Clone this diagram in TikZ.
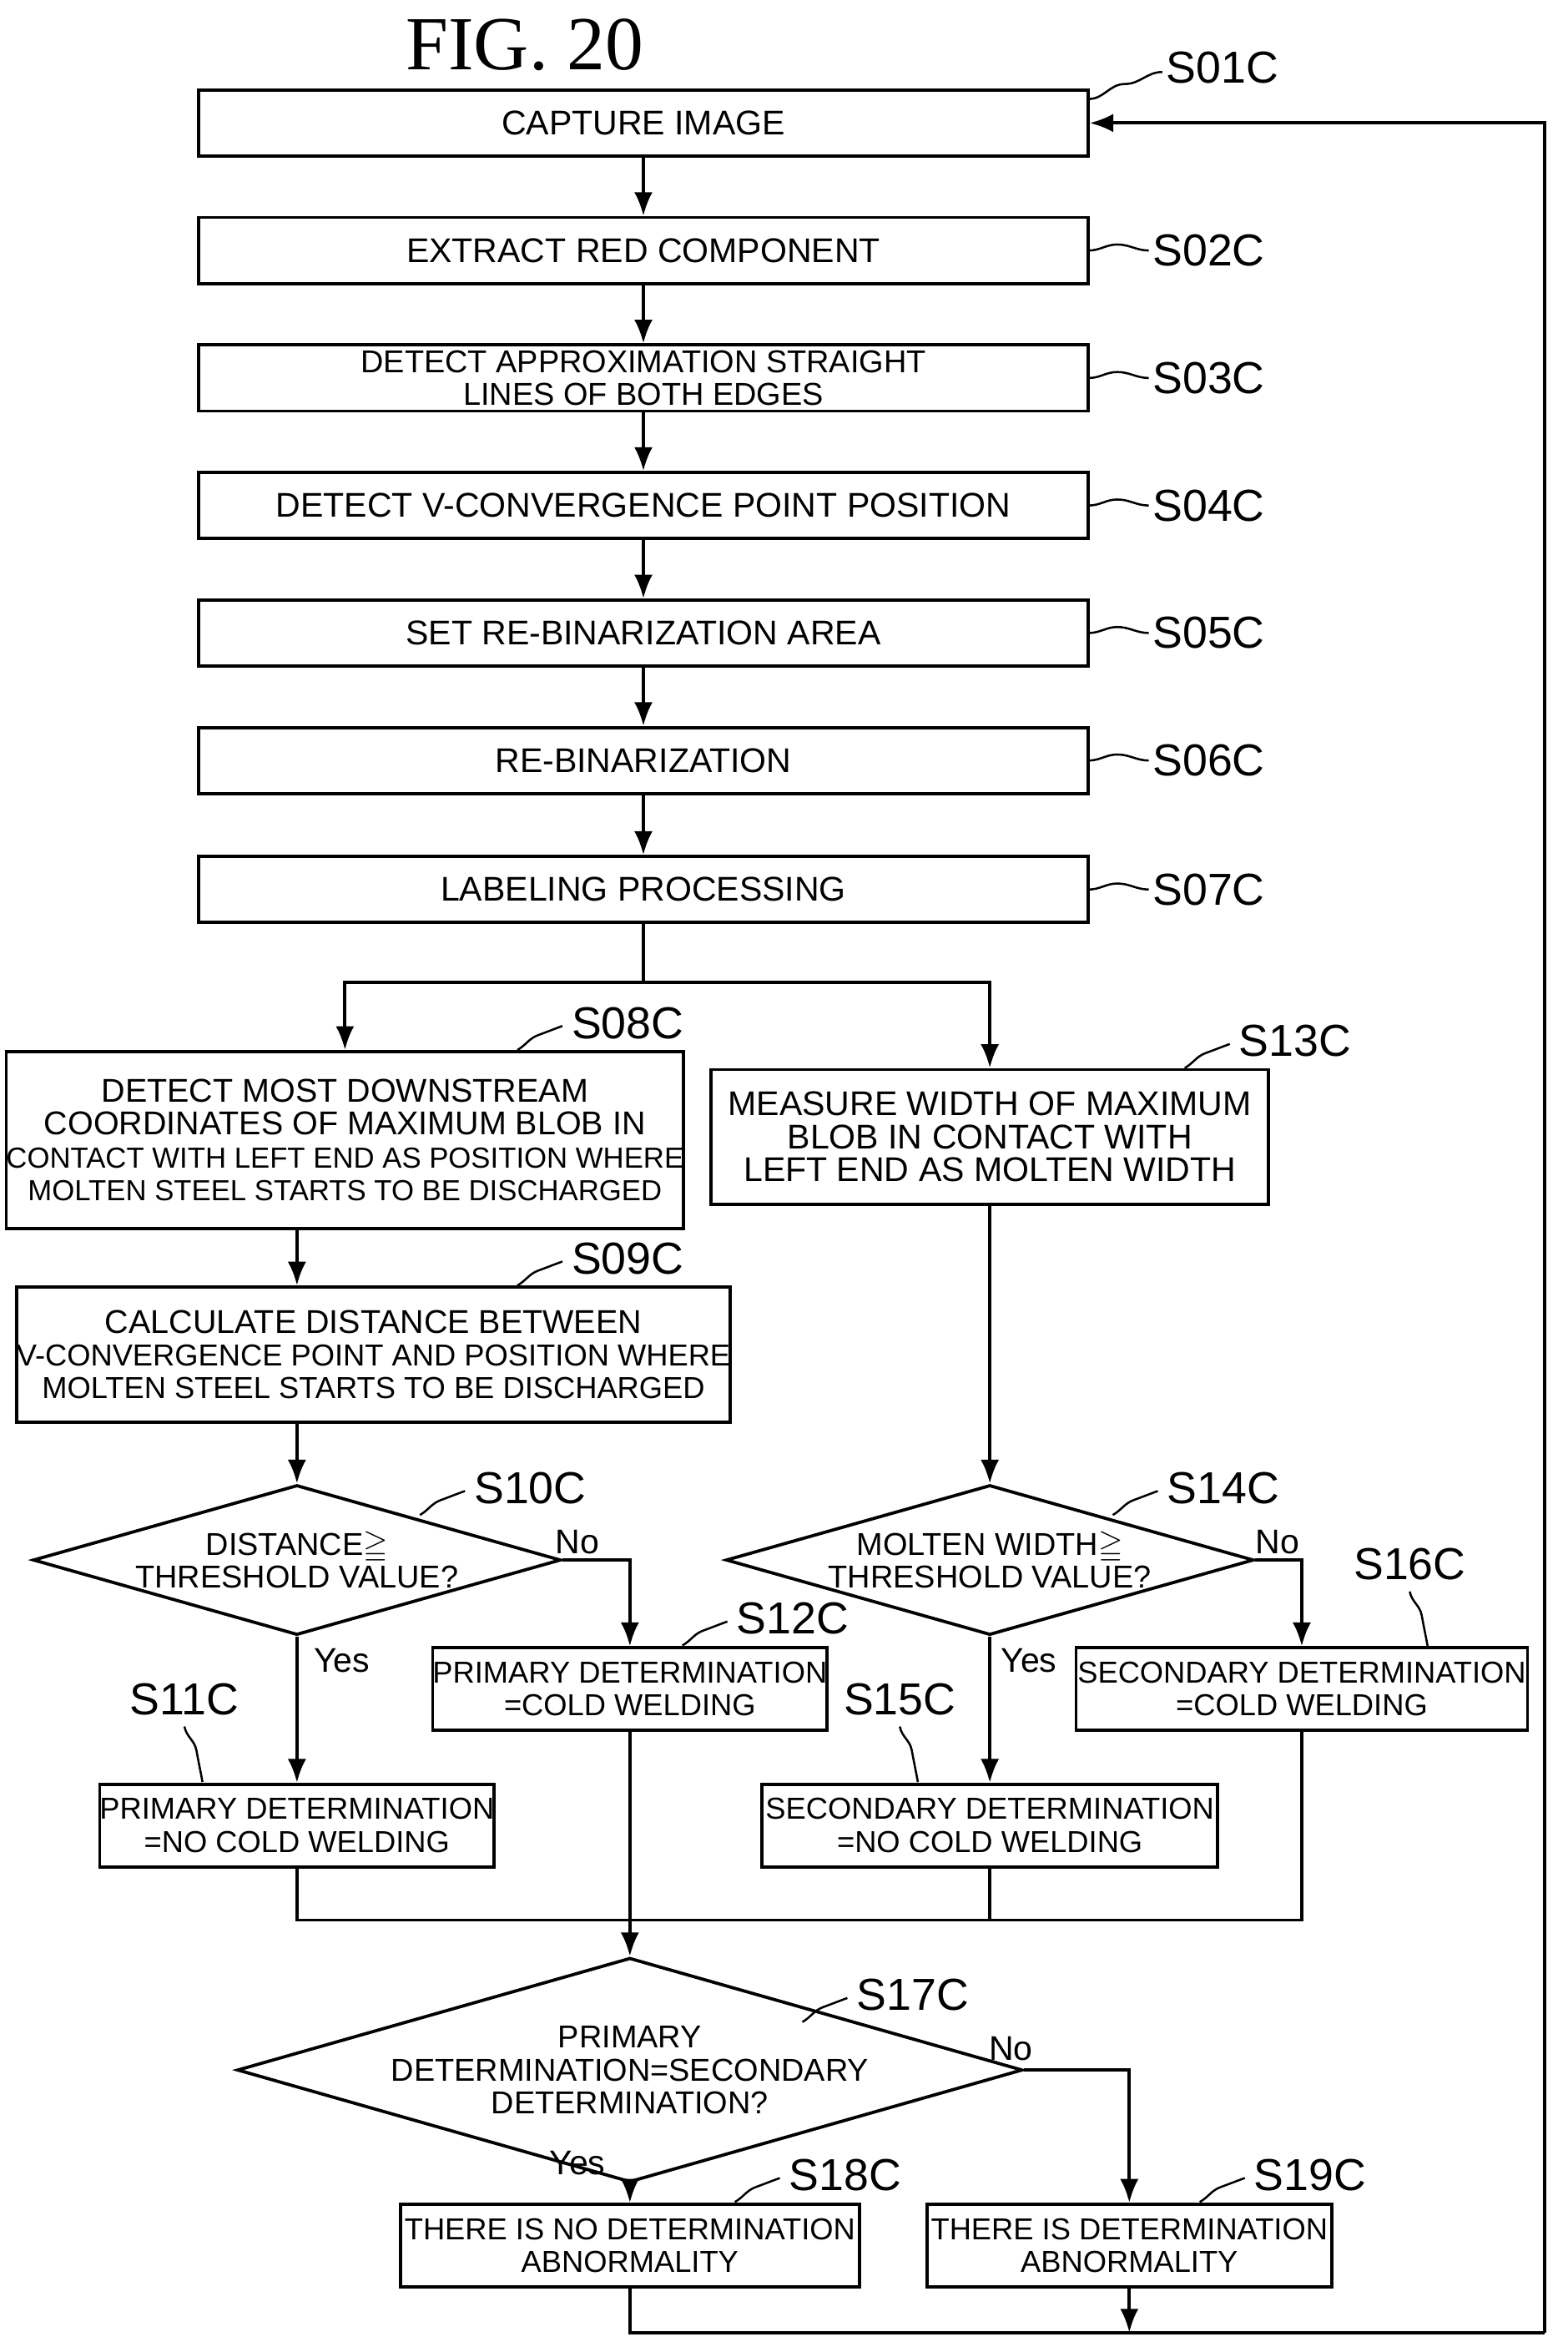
\documentclass[tikz,border=0pt]{standalone}
\usepackage{amssymb}
\usepackage{fontspec}
\setmainfont{Liberation Sans}
\newfontfamily\figfont{Liberation Serif}
\usetikzlibrary{shapes.geometric,arrows.meta}
\tikzset{
  box/.style={draw,line width=1.2pt,inner sep=0pt,align=center,font=\fontsize{13}{15}\selectfont},
  dia/.style={draw,diamond,aspect=3.5,line width=1.2pt,inner sep=0pt,align=center,
    minimum width=7.04cm,minimum height=2cm,font=\fontsize{13}{15}\selectfont},
  flow/.style={line width=1.2pt,-{Latex[length=9pt,width=7pt]}},
  line/.style={line width=1.2pt},
  lead/.style={line width=0.8pt},
  steplbl/.style={font=\fontsize{17}{19}\selectfont},
  yn/.style={font=\fontsize{13}{15}\selectfont}
}
\begin{document}
\begin{tikzpicture}[x=0.02cm,y=-0.02cm]
  \useasboundingbox (0,0) rectangle (1045,1568);
  \node[font=\figfont\fontsize{29}{31}\selectfont] at (350,30) {FIG. 20};

  % main column
  \node[box,minimum width=11.86cm,minimum height=0.88cm] (s01) at (429,82) {CAPTURE IMAGE};
  \node[box,minimum width=11.86cm,minimum height=0.88cm] (s02) at (429,167) {EXTRACT RED COMPONENT};
  \node[box,minimum width=11.86cm,minimum height=0.88cm,font=\fontsize{12}{12.5}\selectfont] (s03) at (429,252) {DETECT APPROXIMATION STRAIGHT\\LINES OF BOTH EDGES};
  \node[box,minimum width=11.86cm,minimum height=0.88cm] (s04) at (429,337) {DETECT V-CONVERGENCE POINT POSITION};
  \node[box,minimum width=11.86cm,minimum height=0.88cm] (s05) at (429,422) {SET RE-BINARIZATION AREA};
  \node[box,minimum width=11.86cm,minimum height=0.88cm] (s06) at (429,507) {RE-BINARIZATION};
  \node[box,minimum width=11.86cm,minimum height=0.88cm] (s07) at (429,593) {LABELING PROCESSING};
  \foreach \a/\b in {s01/s02,s02/s03,s03/s04,s04/s05,s05/s06,s06/s07} {
    \draw[flow] (\a) -- (\b);
  }

  % left branch
  \node[box,minimum width=8.72cm,minimum height=2.36cm,font=\fontsize{12.5}{12.5}\selectfont] (s08) at (230,760)
    {DETECT MOST DOWNSTREAM\\COORDINATES OF MAXIMUM BLOB IN\\{\fontsize{11}{12.5}\selectfont CONTACT WITH LEFT END AS POSITION WHERE}\\{\fontsize{11}{12.5}\selectfont MOLTEN STEEL STARTS TO BE DISCHARGED}};
  \node[box,minimum width=9.5cm,minimum height=1.8cm,font=\fontsize{12.5}{12.5}\selectfont] (s09) at (249,903)
    {CALCULATE DISTANCE BETWEEN\\{\fontsize{11.5}{12.5}\selectfont V-CONVERGENCE POINT AND POSITION WHERE}\\{\fontsize{11.5}{12.5}\selectfont MOLTEN STEEL STARTS TO BE DISCHARGED}};
  \node[dia,font=\fontsize{12}{12.5}\selectfont] (s10) at (198,1040) {DISTANCE$\geqq$\\THRESHOLD VALUE?};
  \node[box,minimum width=5.22cm,minimum height=1.1cm,font=\fontsize{11.5}{12.5}\selectfont] (s12) at (420,1126) {PRIMARY DETERMINATION\\=COLD WELDING};
  \node[box,minimum width=5.2cm,minimum height=1.1cm,font=\fontsize{11.5}{12.5}\selectfont] (s11) at (198,1217) {PRIMARY DETERMINATION\\=NO COLD WELDING};

  % right branch
  \node[box,minimum width=7.44cm,minimum height=1.8cm,font=\fontsize{13}{12.5}\selectfont] (s13) at (660,758)
    {MEASURE WIDTH OF MAXIMUM\\BLOB IN CONTACT WITH\\LEFT END AS MOLTEN WIDTH};
  \node[dia,font=\fontsize{12}{12.5}\selectfont] (s14) at (660,1040) {MOLTEN WIDTH$\geqq$\\THRESHOLD VALUE?};
  \node[box,minimum width=6.02cm,minimum height=1.1cm,font=\fontsize{11.5}{12.5}\selectfont] (s16) at (868,1126) {SECONDARY DETERMINATION\\=COLD WELDING};
  \node[box,minimum width=6.08cm,minimum height=1.1cm,font=\fontsize{11.5}{12.5}\selectfont] (s15) at (660,1217) {SECONDARY DETERMINATION\\=NO COLD WELDING};

  % final comparison
  \node[dia,minimum width=9.6cm,font=\fontsize{12}{12.5}\selectfont] (s17) at (420,1380) {PRIMARY\\DETERMINATION=SECONDARY\\DETERMINATION?};
  \node[box,minimum width=6.12cm,minimum height=1.1cm,font=\fontsize{11.5}{12.5}\selectfont] (s18) at (420,1497) {THERE IS NO DETERMINATION\\ABNORMALITY};
  \node[box,minimum width=5.4cm,minimum height=1.1cm,font=\fontsize{11.5}{12.5}\selectfont] (s19) at (753,1497) {THERE IS DETERMINATION\\ABNORMALITY};

  \coordinate (split) at (429,655);
  \coordinate (merge) at (420,1280);
  \coordinate (back) at (1030,1555);
  \draw[line] (s07) -- (split);
  \draw[flow] (split) -| (s08);
  \draw[flow] (split) -| (s13);
  \draw[flow] (s08.south -| s10) -- (s10.north |- s09.north);
  \draw[flow] (s09.south -| s10) -- (s10);
  \draw[flow] (s13) -- (s14);
  \draw[flow] (s10.east) -| (s12);
  \draw[flow] (s10.south) -- (s11);
  \draw[flow] (s14.east) -| (s16);
  \draw[flow] (s14.south) -- (s15);
  \draw[line] (s11.south) |- (merge);
  \draw[line] (s15.south) |- (merge);
  \draw[line] (s16.south) |- (merge);
  \draw[flow] (s12) -- (s17);
  \draw[flow] (s17.south) -- (s18);
  \draw[flow] (s17.east) -| (s19);
  \draw[line] (s18.south) |- (back);
  \draw[flow] (s19.south) -- (s19.south |- back);
  \draw[flow] (back) |- (s01.east);

  % yes / no
  \node[yn] at (385,1028) {No};
  \node[yn] at (228,1107) {Yes};
  \node[yn] at (852,1028) {No};
  \node[yn] at (686,1107) {Yes};
  \node[yn] at (674,1366) {No};
  \node[yn] at (385,1442) {Yes};

  % step labels, right of the column
  \node[steplbl] at (815,45) {S01C};
  \draw[lead] (726,66) to[out=0,in=180] (750,56) to[out=0,in=180] (775,48);
  \foreach \y/\t in {167/S02C,252/S03C,337/S04C,422/S05C,507/S06C,593/S07C} {
    \draw[lead] (726,\y) to[out=0,in=180] (745,\y-4) to[out=0,in=180] (766,\y);
    \node[steplbl] at (806,\y) {\t};
  }
  % step labels above boxes
  \foreach \x/\y/\t in {345/700/S08C,345/857/S09C,280/1010/S10C,455/1097/S12C,790/712/S13C,742/1010/S14C,535/1348/S17C,490/1468/S18C,800/1468/S19C} {
    \draw[lead] (\x,\y) to[out=30,in=200] (\x+14,\y-10) to[out=20,in=200] (\x+30,\y-16);
    \node[steplbl,anchor=west] at (\x+30,\y-18) {\t};
  }
  \foreach \x/\y/\t in {123/1133/S11C,600/1133/S15C,940/1043/S16C} {
    \draw[lead] (\x,\y+18) to[out=-80,in=100] (\x+8,\y+34) to[out=-80,in=100] (\x+12,\y+55);
    \node[steplbl] at (\x,\y) {\t};
  }
\end{tikzpicture}
\end{document}
